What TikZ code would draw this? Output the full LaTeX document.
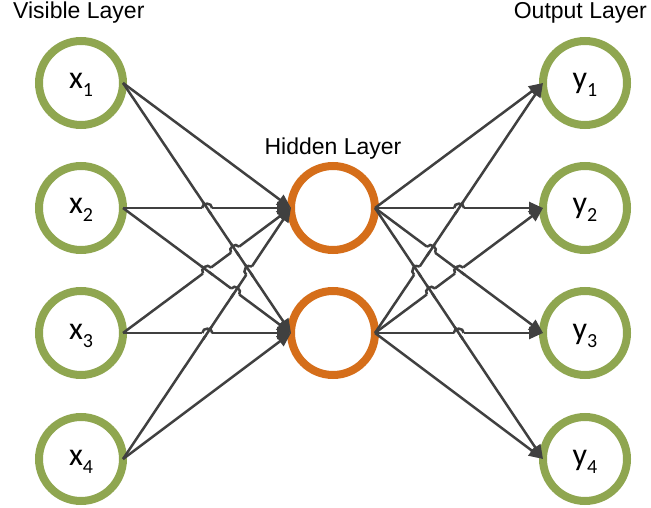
\documentclass[tikz,border=0pt]{standalone}
\usepackage{fontspec}
\setmainfont{Liberation Sans}
\newfontfamily\carlitofont{Carlito}
\usetikzlibrary{arrows.meta,calc}
\definecolor{ringgreen}{RGB}{143,166,80}
\definecolor{ringorange}{RGB}{213,110,26}
\definecolor{edgegray}{RGB}{64,64,64}
\tikzset{
  unit/.style={circle, draw=#1, line width=8bp, fill=white, minimum size=84bp, inner sep=0pt, outer sep=0pt},
  conn/.style={draw=edgegray, line width=2.5bp},
  arr/.style={conn, -{Triangle[length=14bp,width=12bp]}},
  lbl/.style={font=\fontsize{23bp}{26bp}\selectfont, inner sep=0pt},
  vlbl/.style={anchor=base, inner sep=0pt, font=\carlitofont\fontsize{32bp}{34bp}\selectfont}
}
\newcommand{\sbs}[1]{\raisebox{-8bp}{\fontsize{20bp}{22bp}\selectfont #1}}
% hop: line #1--#2 jumps over line #3--#4
\newcommand{\hop}[4]{%
  \coordinate (I) at (intersection of #1--#2 and #3--#4);
  \draw[white, line width=5bp] ($(I)!5bp!(#1)$) -- ($(I)!5bp!(#2)$);
  \draw[conn] ($(I)!7.5bp!(#3)$) -- ($(I)!7.5bp!(#4)$);
  \draw[conn] ($(I)!5bp!(#1)$) to[bend left=90, looseness=1.5] ($(I)!5bp!(#2)$);
}
\begin{document}
\begin{tikzpicture}[x=1bp,y=-1bp]
\useasboundingbox (0,0) rectangle (651,508);
% nodes
\node[unit=ringgreen] (x1) at (81,83) {};
\node[unit=ringgreen] (x2) at (81,208) {};
\node[unit=ringgreen] (x3) at (81,333) {};
\node[unit=ringgreen] (x4) at (81,459) {};
\node[unit=ringorange] (h1) at (333,208) {};
\node[unit=ringorange] (h2) at (333,333) {};
\node[unit=ringgreen] (y1) at (585,83) {};
\node[unit=ringgreen] (y2) at (585,208) {};
\node[unit=ringgreen] (y3) at (585,333) {};
\node[unit=ringgreen] (y4) at (585,459) {};
% labels inside
\node[vlbl] (tx1) at (81,89) {x\sbs{1}};
\node[vlbl] (tx2) at (81,214) {x\sbs{2}};
\node[vlbl] (tx3) at (81,339) {x\sbs{3}};
\node[vlbl] (tx4) at (81,465) {x\sbs{4}};
\node[vlbl] (ty1) at (585,89) {y\sbs{1}};
\node[vlbl] (ty2) at (585,214) {y\sbs{2}};
\node[vlbl] (ty3) at (585,339) {y\sbs{3}};
\node[vlbl] (ty4) at (585,465) {y\sbs{4}};
% layer titles
\node[lbl, anchor=base west] (tv) at (13,19) {Visible Layer};
\node[lbl, anchor=base] (th) at (333,155) {Hidden Layer};
\node[lbl, anchor=base east] (to) at (647,19) {Output Layer};
% anchor points
\foreach \i in {1,2,3,4}{
  \coordinate (a\i) at (x\i.east);
  \coordinate (o\i) at (y\i.west);
}
\coordinate (hl1) at (h1.west);
\coordinate (hl2) at (h2.west);
\coordinate (hr1) at (h1.east);
\coordinate (hr2) at (h2.east);
% edges visible -> hidden
\foreach \i in {1,2,3,4}{
  \draw[arr] (a\i) -- (hl1);
  \draw[arr] (a\i) -- (hl2);
}
% edges hidden -> output
\foreach \i in {1,2,3,4}{
  \draw[arr] (hr1) -- (o\i);
  \draw[arr] (hr2) -- (o\i);
}
% hops left
\hop{a2}{hl1}{a1}{hl2}
\hop{a3}{hl1}{a1}{hl2}
\hop{a4}{hl1}{a1}{hl2}
\hop{a3}{hl1}{a2}{hl2}
\hop{a2}{hl2}{a4}{hl1}
\hop{a3}{hl2}{a4}{hl1}
% hops right
\hop{hr1}{o2}{hr2}{o1}
\hop{hr1}{o3}{hr2}{o1}
\hop{hr2}{o1}{hr1}{o4}
\hop{hr2}{o2}{hr1}{o3}
\hop{hr2}{o2}{hr1}{o4}
\hop{hr2}{o3}{hr1}{o4}
\end{tikzpicture}
\end{document}
